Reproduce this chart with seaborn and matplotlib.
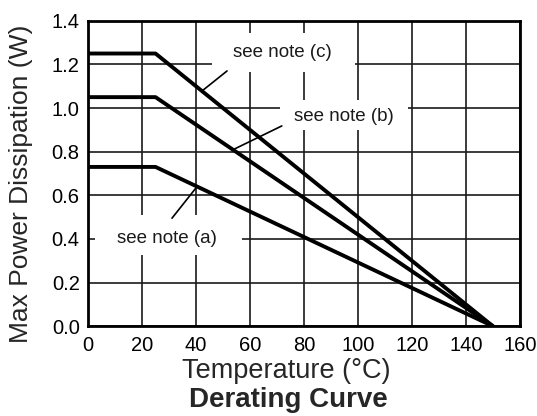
import numpy as np
import pandas as pd
import matplotlib
matplotlib.use("Agg")
import matplotlib.pyplot as plt
from matplotlib.patches import Rectangle
import seaborn as sns

# ── data ─────────────────────────────────────────────────────────────────────
temps     = [0, 25, 150]                 # °C: flat until 25, zero at 150
power_a   = [0.73, 0.73, 0.0]            # W, note (a)
power_b   = [1.05, 1.05, 0.0]            # W, note (b)
power_c   = [1.25, 1.25, 0.0]            # W, note (c)
notes     = ["see note (a)", "see note (b)", "see note (c)"]
x_ticks   = [0, 20, 40, 60, 80, 100, 120, 140, 160]
y_ticks   = [0.0, 0.2, 0.4, 0.6, 0.8, 1.0, 1.2, 1.4]

df = pd.DataFrame({
    "temp": temps * 3,
    "power": power_a + power_b + power_c,
    "note": [n for n in notes for _ in temps],
})

sns.set_style("white")
plt.rcParams["font.family"] = ["Liberation Sans", "DejaVu Sans"]

fig = plt.figure(figsize=(5.37, 4.16), dpi=100)
ax = fig.add_axes([0.164, 0.216, 0.804, 0.734])

ax.set_xlim(0, 160)
ax.set_ylim(0, 1.4)
ax.set_xticks(x_ticks)
ax.set_yticks(y_ticks)
ax.set_yticklabels([f"{v:.1f}" for v in y_ticks])
ax.grid(True, color="#1a1a1a", linewidth=1.2)
ax.set_axisbelow(True)
ax.tick_params(length=0, labelsize=14.5, colors="black")
ax.tick_params(axis="y", pad=6)
ax.tick_params(axis="x", pad=7)
for sp in ax.spines.values():
    sp.set_visible(True)
    sp.set_color("black")
    sp.set_linewidth(2)

sns.lineplot(data=df, x="temp", y="power", hue="note",
             palette=["black"] * 3, linewidth=2.8, legend=False,
             ax=ax, zorder=5)

# ── note labels with white boxes that hide the grid ─────────────────────────
series = {"see note (a)": power_a, "see note (b)": power_b, "see note (c)": power_c}
label_pos = {"see note (a)": (29.3, 0.404),
             "see note (b)": (94.8, 0.959),
             "see note (c)": (71.9, 1.253)}
boxes = {"see note (a)": (2.6, 0.326, 54.4, 0.183),
         "see note (b)": (71.1, 0.900, 47.4, 0.137),
         "see note (c)": (45.9, 1.166, 53.0, 0.179)}
leaders = {"see note (a)": ((31.1, 0.495), 40.4),
           "see note (b)": ((71.8, 0.918), 53.7),
           "see note (c)": ((51.5, 1.170), 42.2)}

for note in notes:
    bx, by, bw, bh = boxes[note]
    ax.add_patch(Rectangle((bx, by), bw, bh, facecolor="white",
                           edgecolor="none", zorder=3))
    tx, ty = label_pos[note]
    ax.text(tx, ty, note, ha="center", va="center", fontsize=13.5,
            color="#1a1a1a", zorder=6)
    (sx, sy), ex = leaders[note]
    ey = np.interp(ex, temps, series[note])
    ax.annotate("", xy=(ex, ey), xytext=(sx, sy),
                arrowprops=dict(arrowstyle="-", color="black", lw=1.2,
                                shrinkA=0, shrinkB=0), zorder=6)

ax.set_xlabel("Temperature (°C)", fontsize=19.5)
ax.set_ylabel("Max Power Dissipation (W)", fontsize=19)
ax.xaxis.set_label_coords(0.458, -0.103)
ax.yaxis.set_label_coords(-0.128, 0.466)
fig.text(0.537, 0.038, "Derating Curve", fontsize=20, fontweight="bold",
         ha="center", va="center")

fig.savefig("out.png", dpi=100)
